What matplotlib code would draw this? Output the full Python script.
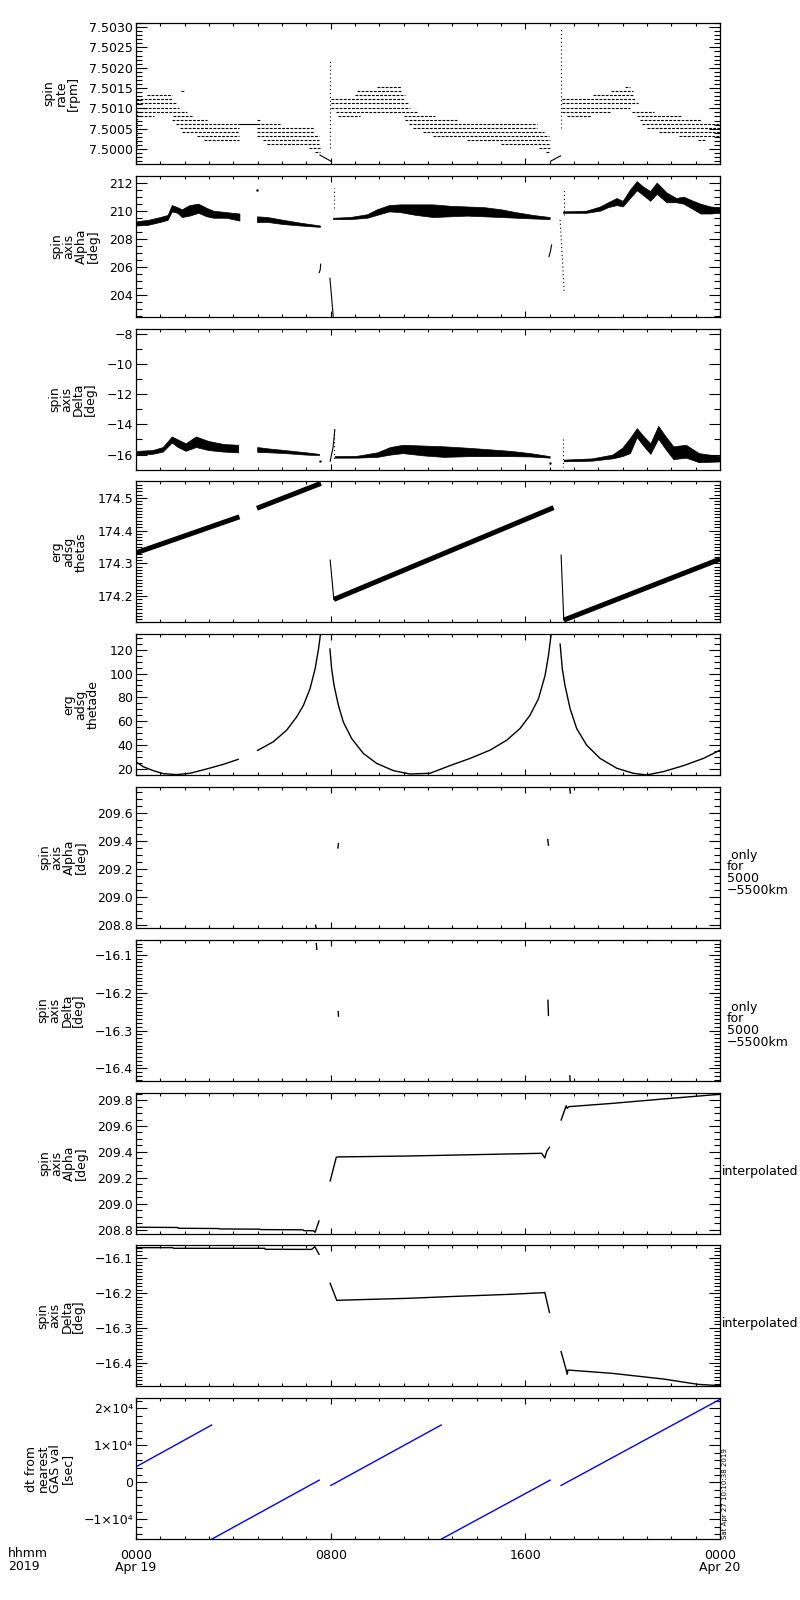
import matplotlib
matplotlib.use('Agg')
import matplotlib.pyplot as plt
from matplotlib.ticker import MultipleLocator, FixedLocator, FixedFormatter, FuncFormatter

plt.rcParams['font.family'] = 'DejaVu Sans'
plt.rcParams['font.size'] = 9

# time axis in hours from 0000 Apr 19 2019
xticks_h = [0, 8, 16, 24]
xtick_labels = ['0000\nApr 19', '0800', '1600', '0000\nApr 20']

# ---- panel 1: spin rate, quantised levels (level, start h, end h)
rate_lev = [7.50142, 7.50132, 7.50122, 7.50112, 7.50102, 7.50092, 7.50081, 7.50081,
            7.50072, 7.50062, 7.50052, 7.50042, 7.50032, 7.50023,
            7.50072, 7.50062, 7.50052, 7.50042, 7.50032, 7.50023, 7.50013, 7.50003, 7.49993,
            7.50152, 7.50142, 7.50132, 7.50122, 7.50112, 7.50102, 7.50092, 7.50081, 7.50081,
            7.50072, 7.50062, 7.50052, 7.50042, 7.50032, 7.50023, 7.50013, 7.50003, 7.49993,
            7.50152, 7.50142, 7.50132, 7.50122, 7.50112, 7.50102, 7.50092, 7.50092, 7.50081,
            7.50081, 7.50072, 7.50062, 7.50052, 7.50042, 7.50032, 7.50023]
rate_t0 = [1.85, 0.44, 0.0, 0.0, 0.0, 0.0, 0.0, 1.5,
           1.47, 1.64, 1.8, 1.9, 2.5, 2.8,
           4.97, 4.97, 4.97, 4.97, 4.97, 5.2, 5.4, 7.1, 7.35,
           9.9, 9.1, 9.0, 8.0, 8.0, 8.0, 8.2, 8.3, 11.0,
           11.05, 11.2, 11.4, 11.8, 12.2, 13.6, 15.0, 16.55, 16.85,
           20.1, 19.5, 18.8, 17.5, 17.5, 17.5, 17.5, 20.4, 17.7,
           20.6, 20.7, 20.8, 21.0, 21.5, 22.3, 23.1]
rate_t1 = [2.0, 1.47, 1.47, 1.64, 1.78, 2.08, 0.74, 2.3,
           2.9, 4.25, 4.25, 4.25, 4.25, 4.25,
           5.1, 5.9, 7.3, 7.3, 7.5, 7.5, 7.5, 7.56, 7.56,
           10.9, 10.9, 11.06, 11.06, 11.2, 11.26, 11.6, 9.2, 12.29,
           13.18, 16.48, 16.48, 16.75, 16.96, 17.03, 17.03, 17.03, 17.03,
           20.3, 20.44, 20.44, 20.5, 20.65, 20.3, 19.48, 21.3, 18.7,
           22.4, 23.2, 24.0, 24.0, 24.0, 24.0, 23.4]
rate_bridge_h = [4.25, 4.97]
rate_bridge_v = [7.50062, 7.50062]
rate_tail1_h = [7.56, 8.01]
rate_tail1_v = [7.49985, 7.49970]
rate_tail2_h = [17.04, 17.45]
rate_tail2_v = [7.49970, 7.49983]
rate_spike_h = [7.97, 17.47, 0.05]
rate_spike_lo = [7.50003, 7.50051, 7.50005]
rate_spike_hi = [7.50221, 7.50301, 7.50100]

# ---- panel 2: spin axis Alpha, band envelopes
alpha_h = [[0.0, 0.5, 0.99, 1.3, 1.47, 1.7, 1.88, 2.2, 2.56, 2.9, 3.18, 3.7, 4.25],
           [4.97, 5.4, 6.05, 6.74, 7.56],
           [8.1, 8.8, 9.5, 9.9, 10.4, 10.85, 11.5, 12.2, 12.9, 13.6, 14.3, 15.0, 15.6, 16.3, 17.0],
           [17.55, 18.5, 19.07, 19.4, 19.75, 20.0, 20.3, 20.58, 20.85, 21.13, 21.4, 21.8,
            22.2, 22.5, 22.9, 23.2, 23.6, 24.0]]
alpha_lo = [[208.95, 209.0, 209.2, 209.35, 209.95, 209.85, 209.55, 209.65, 209.85, 209.6, 209.5, 209.5, 209.3],
            [209.2, 209.2, 209.05, 208.95, 208.85],
            [209.4, 209.4, 209.5, 209.7, 209.95, 209.9, 209.7, 209.55, 209.6, 209.65, 209.6, 209.55, 209.5, 209.45, 209.4],
            [209.85, 209.85, 210.0, 210.25, 210.4, 210.3, 210.9, 211.45, 211.1, 210.7, 211.2, 210.6,
             210.6, 210.5, 210.1, 209.8, 209.8, 209.85]]
alpha_hi = [[209.25, 209.35, 209.55, 209.7, 210.4, 210.25, 210.1, 210.4, 210.5, 210.2, 210.0, 209.9, 209.8],
            [209.6, 209.55, 209.35, 209.15, 208.95],
            [209.5, 209.55, 209.75, 210.1, 210.4, 210.45, 210.45, 210.45, 210.35, 210.3, 210.25, 210.1, 209.9, 209.7, 209.55],
            [209.95, 210.0, 210.3, 210.6, 210.9, 210.7, 211.5, 212.1, 211.7, 211.4, 212.0, 211.3,
             210.9, 211.0, 210.7, 210.5, 210.3, 210.25]]
alpha_line_h = [[7.53, 7.57, 7.59], [7.97, 8.11], [16.97, 17.03, 17.08]]
alpha_line_v = [[205.6, 205.8, 206.2], [205.2, 202.4], [206.74, 207.1, 207.57]]
alpha_dot_h = [[8.13, 8.13], [17.58, 17.58], [17.43, 17.6]]
alpha_dot_v = [[210.16, 211.58], [209.7, 211.58], [209.35, 204.14]]
alpha_pt_h = [4.96]
alpha_pt_v = [211.48]

# ---- panel 3: spin axis Delta, band envelopes
delta_h = [[0.04, 0.67, 1.1, 1.47, 1.72, 2.04, 2.46, 2.98, 3.6, 4.2],
           [4.98, 5.5, 6.13, 7.0, 7.52],
           [8.17, 9.07, 9.91, 10.44, 10.96, 11.8, 12.64, 13.69, 14.53, 15.37, 16.2, 17.0],
           [17.58, 18.73, 19.57, 19.98, 20.3, 20.58, 20.87, 21.14, 21.46, 21.77, 22.08, 22.6, 23.13, 24.0]]
delta_lo = [[-16.0, -15.95, -15.8, -15.2, -15.5, -15.75, -15.5, -15.7, -15.8, -15.85],
            [-15.82, -15.85, -15.9, -16.0, -16.03],
            [-16.2, -16.2, -16.15, -16.0, -15.9, -16.05, -16.15, -16.1, -16.1, -16.1, -16.12, -16.2],
            [-16.44, -16.4, -16.25, -16.1, -15.9, -14.85, -15.45, -15.95, -14.95, -15.65, -16.3, -16.2, -16.5, -16.45]]
delta_hi = [[-15.75, -15.7, -15.5, -14.8, -15.0, -15.25, -14.8, -15.1, -15.3, -15.35],
            [-15.5, -15.6, -15.7, -15.85, -15.95],
            [-16.1, -16.08, -15.85, -15.5, -15.35, -15.4, -15.45, -15.55, -15.65, -15.75, -15.9, -16.1],
            [-16.33, -16.25, -16.0, -15.55, -14.9, -14.25, -14.8, -15.25, -14.1, -14.8, -15.45, -15.35, -15.9, -16.1]]
delta_line_h = [[7.98, 8.1, 8.17]]
delta_line_v = [[-16.44, -15.5, -14.35]]
delta_dot_h = [[8.15, 8.15], [17.53, 17.53]]
delta_dot_v = [[-14.35, -16.44], [-14.97, -16.8]]
delta_pt_h = [7.56, 17.0]
delta_pt_v = [-16.39, -16.55]

# ---- panel 4: erg adsg thetas (ramps drawn thick, drops thin)
thetas_ramp_h = [[0.0, 4.25], [4.97, 7.6], [8.13, 17.16], [17.58, 24.0]]
thetas_ramp_v = [[174.332, 174.442], [174.468, 174.544], [174.19, 174.47], [174.127, 174.313]]
thetas_drop_h = [[7.98, 8.13], [17.47, 17.58]]
thetas_drop_v = [[174.31, 174.19], [174.325, 174.127]]

# ---- panel 5: erg adsg thetade
thetade_h = [[0.03, 0.3, 0.71, 1.12, 1.67, 2.22, 2.9, 3.59, 4.2],
             [5.0, 5.64, 6.19, 6.6, 6.88, 7.15, 7.36, 7.5, 7.6],
             [7.97, 8.04, 8.14, 8.32, 8.52, 8.86, 9.34, 9.89, 10.58, 11.26, 12.08,
              12.9, 13.73, 14.55, 15.24, 15.78, 16.19, 16.54, 16.81, 16.95, 17.08],
             [17.43, 17.52, 17.63, 17.84, 18.11, 18.52, 19.07, 19.76, 20.44, 20.99,
              21.67, 22.5, 23.32, 24.0]]
thetade_v = [[25.6, 21.9, 18.6, 16.1, 15.3, 16.4, 20.0, 23.9, 28.1],
             [35.6, 42.8, 52.5, 63.6, 73.3, 87.2, 103.9, 120.6, 136.0],
             [120.6, 103.9, 90.0, 73.3, 59.4, 45.6, 33.1, 24.7, 18.6, 15.8, 16.4,
              22.8, 28.9, 35.8, 44.2, 53.9, 65.0, 78.9, 98.3, 115.0, 136.0],
             [124.7, 103.9, 90.0, 70.6, 53.9, 40.0, 28.9, 20.6, 16.4, 15.0,
              17.8, 22.8, 28.9, 35.8]]

# ---- panels 6/7: only for 5000-5500km
alpha55_h = [[7.38, 7.40], [8.30, 8.32], [16.92, 16.95], [17.82, 17.85]]
alpha55_v = [[208.80, 208.785], [209.35, 209.38], [209.41, 209.37], [209.78, 209.74]]
delta55_h = [[7.41, 7.43], [8.31, 8.32], [16.93, 16.95], [17.83, 17.84]]
delta55_v = [[-16.07, -16.085], [-16.25, -16.262], [-16.22, -16.26], [-16.42, -16.433]]

# ---- panels 8/9: interpolated
alpha_int_h = [[0.0, 1.72, 1.74, 3.4, 3.42, 5.08, 5.1, 6.87, 6.89, 7.29, 7.36, 7.52],
               [7.98, 8.23, 8.3, 11.17, 13.27, 15.37, 16.67, 16.8, 16.88, 16.99],
               [17.47, 17.68, 17.72, 17.79, 19.57, 21.67, 24.0]]
alpha_int_v = [[208.821, 208.819, 208.813, 208.811, 208.808, 208.806, 208.803, 208.801, 208.795, 208.794, 208.782, 208.869],
               [209.177, 209.359, 209.362, 209.369, 209.377, 209.385, 209.39, 209.354, 209.405, 209.436],
               [209.646, 209.756, 209.736, 209.749, 209.774, 209.808, 209.844]]
delta_int_h = [[0.0, 1.51, 1.53, 5.29, 5.31, 7.22, 7.35, 7.52],
               [7.98, 8.25, 9.1, 11.17, 13.27, 15.37, 16.74, 16.8, 16.99],
               [17.47, 17.68, 17.72, 17.75, 19.57, 21.67, 23.1, 24.0]]
delta_int_v = [[-16.0695, -16.0695, -16.0713, -16.0713, -16.0742, -16.0745, -16.0666, -16.0886],
               [-16.172, -16.2208, -16.219, -16.215, -16.209, -16.2035, -16.1988, -16.198, -16.2553],
               [-16.368, -16.421, -16.4334, -16.421, -16.4305, -16.4468, -16.4621, -16.466]]

# ---- panel 10: dt from nearest GAS value
dt_h = [[0.0, 3.11], [3.11, 7.53], [8.01, 12.54], [12.54, 17.02], [17.47, 24.0]]
dt_v = [[4216, 15490], [-15320, 620], [-810, 15490], [-15320, 620], [-810, 22430]]

ylabels = ['spin\nrate\n[rpm]', 'spin\naxis\nAlpha\n[deg]', 'spin\naxis\nDelta\n[deg]',
           'erg\nadsg\nthetas', 'erg\nadsg\nthetade', 'spin\naxis\nAlpha\n[deg]',
           'spin\naxis\nDelta\n[deg]', 'spin\naxis\nAlpha\n[deg]', 'spin\naxis\nDelta\n[deg]',
           'dt from\nnearest\nGAS val\n[sec]']
ylims = [(7.49963, 7.50310), (202.46, 212.48), (-16.99, -7.67), (174.12, 174.55), (14.8, 133.0),
         (208.781, 209.783), (-16.433, -16.06), (208.772, 209.857), (-16.468, -16.063), (-15320, 22730)]
ymajor = [0.0005, 2, 2, 0.1, 20, 0.2, 0.1, 0.2, 0.1, 10000]
yminor = [0.0001, 0.5, 1, 0.01, 5, 0.05, 0.01, 0.05, 0.01, 2000]
yfmt = ['%.4f', '%d', '%d', '%.1f', '%d', '%.1f', '%.1f', '%.1f', '%.1f', None]
dt_ticks = [-10000, 0, 10000, 20000]
dt_tick_labels = ['\u22121\u00d710\u2074', '0', '1\u00d710\u2074', '2\u00d710\u2074']


def make_fmt(spec):
    return FuncFormatter(lambda v, p: (spec % (round(v) if spec == '%d' else v)).replace('-', '\u2212'))


fig = plt.figure(figsize=(8, 16), dpi=100)
axes = []
for i in range(10):
    top = 23 + i * 152.8
    ax = fig.add_axes([136 / 800, 1 - (top + 141) / 1600, 584 / 800, 141 / 1600])
    ax.set_xlim(0, 24)
    ax.set_ylim(*ylims[i])
    ax.xaxis.set_major_locator(FixedLocator(xticks_h))
    ax.xaxis.set_minor_locator(MultipleLocator(1))
    ax.yaxis.set_major_locator(MultipleLocator(ymajor[i]))
    ax.yaxis.set_minor_locator(MultipleLocator(yminor[i]))
    if yfmt[i]:
        ax.yaxis.set_major_formatter(make_fmt(yfmt[i]))
    ax.tick_params(which='both', direction='in', top=True, right=True, labelbottom=False,
                   labelsize=9, width=0.8, pad=2, colors='black')
    ax.tick_params(axis='y', which='major', length=8)
    ax.tick_params(axis='y', which='minor', length=4)
    ax.tick_params(axis='x', which='major', length=4.5)
    ax.tick_params(axis='x', which='minor', length=2.5)
    for s in ax.spines.values():
        s.set_linewidth(0.9)
    ax.set_ylabel(ylabels[i], fontsize=9, linespacing=0.9, labelpad=7)
    axes.append(ax)

lw = 0.8

# panel 1
ax = axes[0]
for lev, t0, t1 in zip(rate_lev, rate_t0, rate_t1):
    ax.plot([t0, t1], [lev, lev], color='k', lw=lw, ls=(0, (2.5, 1.2)))
ax.plot(rate_bridge_h, rate_bridge_v, color='k', lw=lw)
ax.plot(rate_tail1_h, rate_tail1_v, color='k', lw=lw)
ax.plot(rate_tail2_h, rate_tail2_v, color='k', lw=lw)
for h, lo, hi in zip(rate_spike_h, rate_spike_lo, rate_spike_hi):
    ax.plot([h, h], [lo, hi], color='k', lw=lw, ls=(0, (1, 2.5)))

# panel 2
ax = axes[1]
for h, lo, hi in zip(alpha_h, alpha_lo, alpha_hi):
    ax.fill_between(h, lo, hi, color='k', lw=0.5)
for h, v in zip(alpha_line_h, alpha_line_v):
    ax.plot(h, v, color='k', lw=lw)
for h, v in zip(alpha_dot_h, alpha_dot_v):
    ax.plot(h, v, color='k', lw=lw, ls=(0, (1, 2.5)))
ax.plot(alpha_pt_h, alpha_pt_v, 'k.', ms=1.5)

# panel 3
ax = axes[2]
for h, lo, hi in zip(delta_h, delta_lo, delta_hi):
    ax.fill_between(h, lo, hi, color='k', lw=0.5)
for h, v in zip(delta_line_h, delta_line_v):
    ax.plot(h, v, color='k', lw=lw)
for h, v in zip(delta_dot_h, delta_dot_v):
    ax.plot(h, v, color='k', lw=lw, ls=(0, (1, 2.5)))
ax.plot(delta_pt_h, delta_pt_v, 'k.', ms=1.5)

# panel 4
ax = axes[3]
for h, v in zip(thetas_ramp_h, thetas_ramp_v):
    ax.plot(h, v, color='k', lw=3.6, solid_capstyle='butt')
for h, v in zip(thetas_drop_h, thetas_drop_v):
    ax.plot(h, v, color='k', lw=lw)

# panel 5
ax = axes[4]
for h, v in zip(thetade_h, thetade_v):
    ax.plot(h, v, color='k', lw=1.0)

# panels 6-9
for h, v in zip(alpha55_h, alpha55_v):
    axes[5].plot(h, v, color='k', lw=1.0)
for h, v in zip(delta55_h, delta55_v):
    axes[6].plot(h, v, color='k', lw=1.0)
for h, v in zip(alpha_int_h, alpha_int_v):
    axes[7].plot(h, v, color='k', lw=1.0)
for h, v in zip(delta_int_h, delta_int_v):
    axes[8].plot(h, v, color='k', lw=1.0)

# panel 10
ax = axes[9]
for h, v in zip(dt_h, dt_v):
    ax.plot(h, v, color='#0000ff', lw=1.0)
ax.yaxis.set_major_locator(FixedLocator(dt_ticks))
ax.yaxis.set_major_formatter(FixedFormatter(dt_tick_labels))
ax.tick_params(labelbottom=True)
ax.tick_params(axis='x', pad=7)
ax.set_xticklabels(xtick_labels)
plt.setp(ax.get_xticklabels(), linespacing=0.95)

# right-side notes
fig.text(727 / 800, 1 - 873 / 1600, ' only\nfor\n5000\n\u22125500km', fontsize=9,
         ha='left', va='center', linespacing=0.9)
fig.text(727 / 800, 1 - 1025 / 1600, ' only\nfor\n5000\n\u22125500km', fontsize=9,
         ha='left', va='center', linespacing=0.9)
fig.text(722 / 800, 1 - 1172 / 1600, 'interpolated', fontsize=9, ha='left', va='center')
fig.text(722 / 800, 1 - 1324 / 1600, 'interpolated', fontsize=9, ha='left', va='center')
fig.text(8 / 800, 1 - 1547 / 1600, 'hhmm\n2019', fontsize=9, ha='left', va='top', linespacing=0.95)
fig.text(722 / 800, 1 - 1539 / 1600, 'Sat Apr 27 10:10:38 2019', fontsize=5, rotation=90,
         ha='left', va='bottom')

fig.savefig('out.png', dpi=100, facecolor='white')
